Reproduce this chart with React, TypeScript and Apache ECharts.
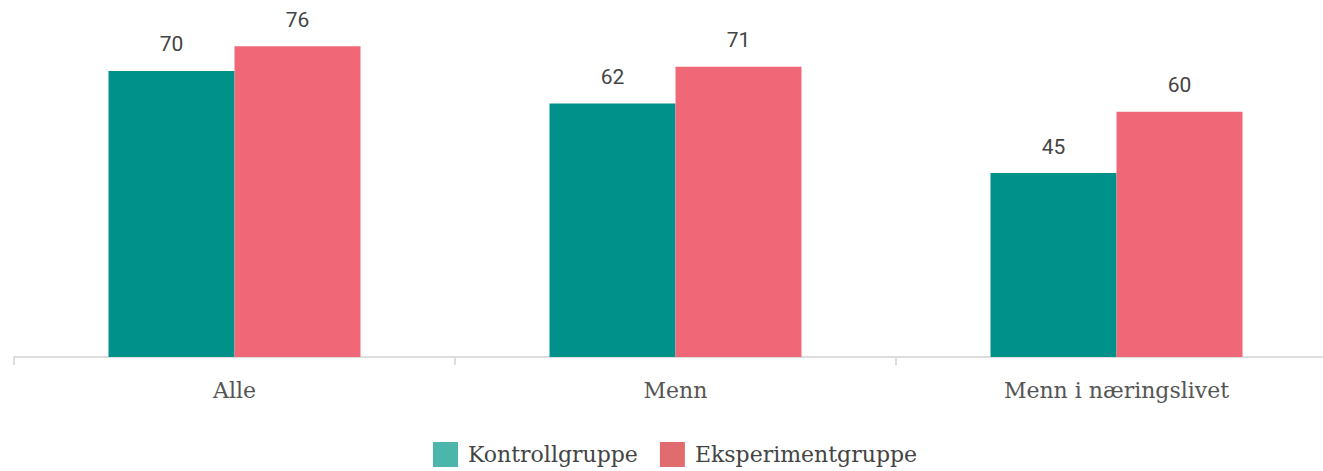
import React, { useEffect, useRef } from "react";
import * as echarts from "echarts";

const categories = ["Alle", "Menn", "Menn i næringslivet"];
const kontroll = [70, 62, 45];
const eksperiment = [76, 71, 60];
const seriesNames = ["Kontrollgruppe", "Eksperimentgruppe"];

export default function App() {
  const ref = useRef<HTMLDivElement>(null);
  useEffect(() => {
    if (!ref.current) return;
    const chart = echarts.init(ref.current, undefined, { renderer: "svg" });
    const slab = "DejaVu Serif";
    const label = {
      show: true,
      position: "top",
      distance: 16,
      fontFamily: "Roboto",
      fontSize: 21,
      color: "#444",
    };
    chart.setOption({
      animation: false,
      grid: {
        left: 14,
        width: 1323,
        top: 30,
        bottom: 114,
        containLabel: false,
        outerBoundsMode: "none",
      },
      legend: {
        top: 442,
        left: 433,
        padding: 0,
        itemWidth: 25,
        itemHeight: 25,
        itemGap: 22,
        icon: "rect",
        textStyle: { fontFamily: slab, fontSize: 22, color: "#444", padding: [0, 0, 0, 5] },
        data: [
          { name: seriesNames[0], itemStyle: { color: "#4DB6AC" } },
          { name: seriesNames[1], itemStyle: { color: "#E06C70" } },
        ],
      },
      xAxis: {
        type: "category",
        data: categories,
        axisLine: { lineStyle: { color: "#dddddd", width: 2 } },
        axisTick: { show: true, length: 8, lineStyle: { color: "#dddddd", width: 2 } },
        axisLabel: { margin: 22, fontFamily: slab, fontSize: 22, color: "#555" },
      },
      yAxis: {
        type: "value",
        min: 0,
        max: 80,
        show: false,
        splitLine: { show: false },
      },
      series: [
        {
          name: seriesNames[0],
          type: "bar",
          data: kontroll,
          barWidth: 126,
          barGap: "0%",
          itemStyle: { color: "#00918A" },
          label,
        },
        {
          name: seriesNames[1],
          type: "bar",
          data: eksperiment,
          barWidth: 126,
          barGap: "0%",
          itemStyle: { color: "#F06878" },
          label,
        },
      ],
    });
    return () => chart.dispose();
  }, []);
  return (
    <div
      ref={ref}
      style={{ position: "absolute", left: 0, top: 0, width: 1323, height: 471 }}
    />
  );
}
